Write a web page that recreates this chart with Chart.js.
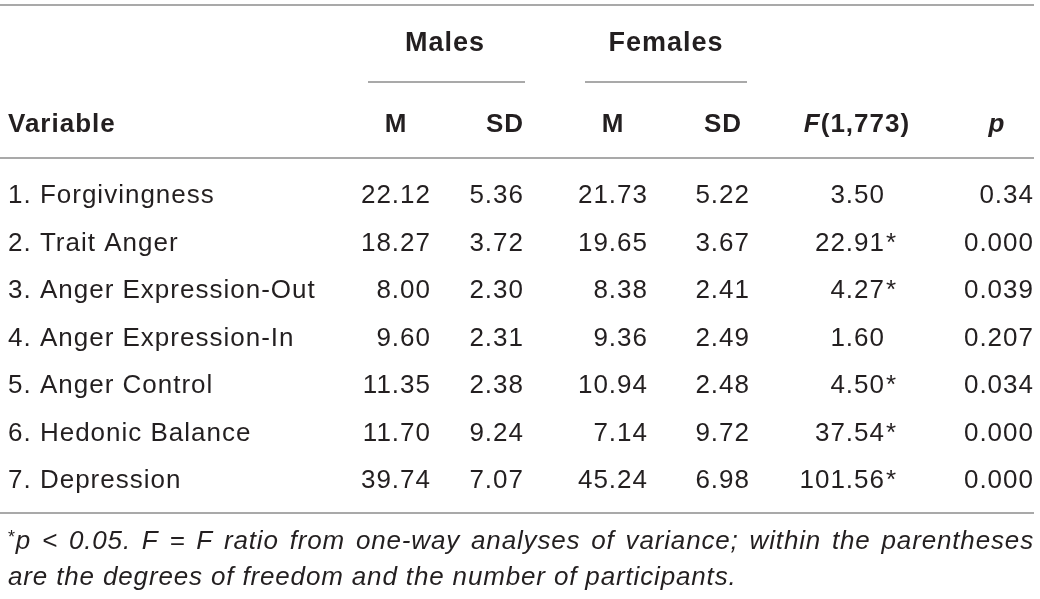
<!DOCTYPE html>
<html><head><meta charset="utf-8">
<script src="https://cdn.jsdelivr.net/npm/chart.js@4.4.1/dist/chart.umd.min.js"></script>
<style>html,body{margin:0;padding:0;background:#fff}#wrap{width:1040px;height:599px;position:relative}</style>
</head><body><div id="wrap"><canvas id="c"></canvas></div>
<script>
// ---- data ----
const variables = ["1. Forgivingness","2. Trait Anger","3. Anger Expression-Out","4. Anger Expression-In","5. Anger Control","6. Hedonic Balance","7. Depression"];
const malesM = [22.12, 18.27, 8.00, 9.60, 11.35, 11.70, 39.74];
const malesSD = [5.36, 3.72, 2.30, 2.31, 2.38, 9.24, 7.07];
const femalesM = [21.73, 19.65, 8.38, 9.36, 10.94, 7.14, 45.24];
const femalesSD = [5.22, 3.67, 2.41, 2.49, 2.48, 9.72, 6.98];
const fRatio = [3.50, 22.91, 4.27, 1.60, 4.50, 37.54, 101.56];
const fSignificant = [false, true, true, false, true, true, true];
const pValues = ["0.34", "0.000", "0.039", "0.207", "0.034", "0.000", "0.000"];
const groupHeaders = ["Males", "Females"];
const columnHeaders = ["M", "SD", "M", "SD", "F(1,773)", "p"];
const footnoteLine1 = "p < 0.05. F = F ratio from one-way analyses of variance; within the parentheses";
const footnoteLine2 = "are the degrees of freedom and the number of participants.";

// ---- layout (styles/positions) ----
const ROW0 = 194, ROWSTEP = 47.5, H = 599, W = 1040;
const yu = px => (px - ROW0) / ROWSTEP;     // pixel -> row units
const colRight = [431, 524, 648, 750, 885, 1034];
const colHeadCenter = [396, 505, 613, 723, 857, 997];
const groupCenter = [445, 666];
const groupRule = [[368, 525], [585, 747]];
const FONT = '"Liberation Sans", Arial, sans-serif';
const SIZE = 26, SPACING = '1px';
const TEXT = '#231f20', RULE = '#8c8c8c';

const columnsData = [malesM, malesSD, femalesM, femalesSD, fRatio, pValues];
const datasets = columnsData.map((arr, c) => ({
  label: columnHeaders[c],
  data: arr.map((v, i) => ({x: colRight[c], y: i})),
  pointRadius: 0, pointHoverRadius: 0, showLine: false
}));

function fmt(c, i) {
  if (c === 5) return pValues[i];
  return columnsData[c][i].toFixed(2);
}

const tablePlugin = {
  id: 'tablePlugin',
  afterDraw(chart) {
    const ctx = chart.ctx, ys = chart.scales.y, xs = chart.scales.x;
    const Y = v => ys.getPixelForValue(v);
    const X = v => xs.getPixelForValue(v);
    const cap = SIZE * 0.36;
    ctx.save();
    ctx.letterSpacing = SPACING;
    // rules
    ctx.strokeStyle = RULE; ctx.lineWidth = 1.5;
    const hline = (x0, x1, py) => { ctx.beginPath(); ctx.moveTo(X(x0), Y(yu(py))); ctx.lineTo(X(x1), Y(yu(py))); ctx.stroke(); };
    hline(0, 1034, 5);
    hline(0, 1034, 158);
    hline(0, 1034, 513);
    groupRule.forEach(r => hline(r[0], r[1], 82));
    ctx.fillStyle = TEXT;
    // group headers
    ctx.font = 'bold 27px ' + FONT;
    ctx.textAlign = 'center'; ctx.textBaseline = 'alphabetic';
    groupHeaders.forEach((g, k) => ctx.fillText(g, X(groupCenter[k]), Y(yu(42)) + cap));
    // column headers
    const hy = Y(yu(123)) + cap;
    ctx.textAlign = 'left';
    ctx.font = 'bold ' + SIZE + 'px ' + FONT;
    ctx.fillText('Variable', X(8), hy);
    ctx.textAlign = 'center';
    columnHeaders.forEach((h, c) => {
      if (c === 4) {
        ctx.font = 'italic bold ' + SIZE + 'px ' + FONT;
        const wF = ctx.measureText('F').width;
        ctx.font = 'bold ' + SIZE + 'px ' + FONT;
        const wR = ctx.measureText('(1,773)').width;
        const x0 = X(colHeadCenter[c]) - (wF + wR) / 2;
        ctx.textAlign = 'left';
        ctx.font = 'italic bold ' + SIZE + 'px ' + FONT;
        ctx.fillText('F', x0, hy);
        ctx.font = 'bold ' + SIZE + 'px ' + FONT;
        ctx.fillText('(1,773)', x0 + wF, hy);
        ctx.textAlign = 'center';
      } else if (c === 5) {
        ctx.font = 'italic bold ' + SIZE + 'px ' + FONT;
        ctx.fillText(h, X(colHeadCenter[c]), hy);
      } else {
        ctx.font = 'bold ' + SIZE + 'px ' + FONT;
        ctx.fillText(h, X(colHeadCenter[c]), hy);
      }
    });
    // body
    ctx.font = SIZE + 'px ' + FONT;
    ctx.textAlign = 'left';
    variables.forEach((v, i) => ctx.fillText(v, X(8), Y(i) + cap));
    chart.data.datasets.forEach((ds, c) => {
      const meta = chart.getDatasetMeta(c);
      meta.data.forEach((el, i) => {
        ctx.textAlign = 'right';
        ctx.fillText(fmt(c, i), el.x, el.y + cap);
        if (c === 4 && fSignificant[i]) {
          ctx.textAlign = 'left';
          ctx.fillText('*', el.x + 1, el.y + cap);
        }
      });
    });
    // footnote
    ctx.letterSpacing = '0.85px';
    ctx.textAlign = 'left';
    const f1 = Y(yu(540)) + cap, f2 = Y(yu(576)) + cap;
    ctx.font = '18px ' + FONT;
    ctx.fillText('*', X(8), f1 - 6);
    const astW = ctx.measureText('*').width;
    ctx.font = 'italic ' + SIZE + 'px ' + FONT;
    const words = footnoteLine1.split(' ');
    const widths = words.map(w => ctx.measureText(w).width);
    const total = widths.reduce((a, b) => a + b, 0);
    const startX = X(8) + astW, endX = X(1034);
    const gap = (endX - startX - total) / (words.length - 1);
    let cx = startX;
    words.forEach((w, k) => { ctx.fillText(w, cx, f1); cx += widths[k] + gap; });
    ctx.fillText(footnoteLine2, X(8), f2);
    ctx.restore();
  }
};

new Chart(document.getElementById('c'), {
  type: 'scatter',
  data: { datasets },
  options: {
    responsive: true, maintainAspectRatio: false, animation: false,
    layout: { padding: 0 },
    events: [],
    plugins: { legend: { display: false }, tooltip: { enabled: false } },
    scales: {
      x: { type: 'linear', min: 0, max: W, display: false },
      y: { type: 'linear', reverse: true, min: yu(0), max: yu(H), display: false }
    }
  },
  plugins: [tablePlugin]
});
</script></body></html>
